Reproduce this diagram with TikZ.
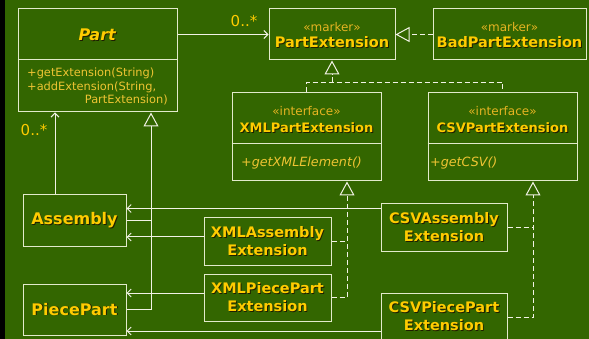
\documentclass[tikz,border=0pt]{standalone}
\usepackage{fontspec}
\setmainfont{DejaVu Sans}
\usetikzlibrary{arrows.meta}
\definecolor{bg}{HTML}{336600}
\definecolor{txt}{HTML}{FFCC00}
\definecolor{stereo}{HTML}{E6B422}
\definecolor{meth}{HTML}{EEC433}
\definecolor{shd}{HTML}{1E1E00}
\definecolor{ln}{HTML}{F2F2E6}
\definecolor{bx}{HTML}{E2EACB}
\newcommand\shtxt[1]{\leavevmode\rlap{\kern0.9pt\raisebox{-0.9pt}{\textcolor{shd}{#1}}}#1}
\begin{document}
\begin{tikzpicture}[x=1pt,y=-1pt,
  box/.style={draw=bx,line width=1pt,inner sep=0pt,rectangle},
  namef/.style={text=txt,font=\bfseries\fontsize{14.5}{18}\selectfont,align=center,inner sep=0pt},
  ifnamef/.style={text=txt,font=\bfseries\fontsize{13}{16}\selectfont,inner sep=0pt},
  bigf/.style={text=txt,font=\bfseries\fontsize{16}{19}\selectfont,inner sep=0pt},
  stereof/.style={text=stereo,font=\fontsize{12}{14}\selectfont,inner sep=0pt},
  methf/.style={text=meth,font=\fontsize{11.4}{13}\selectfont,inner sep=0pt},
  imethf/.style={text=meth,font=\itshape\fontsize{12.7}{15}\selectfont,inner sep=0pt},
  mult/.style={text=txt,font=\fontsize{15}{17}\selectfont,inner sep=0pt},
  conn/.style={draw=ln,line width=1pt},
  nav/.style={conn,-{Straight Barb[length=4pt,width=8pt]}},
  gen/.style={conn,-{Triangle[open,length=14pt,width=15pt,fill=bg]}},
  real/.style={gen,dash pattern=on 5pt off 3pt},
  dsh/.style={conn,dash pattern=on 5pt off 3pt}
]
\useasboundingbox (0,0) rectangle (589,339);
\fill[bg] (0,0) rectangle (589,339);
\fill[black] (0,0) rectangle (5,339);

% boxes
\node[box,minimum width=159pt,minimum height=103pt] (part) at (97.5,60.5) {};
\draw[draw=bx,line width=1pt] (part.west |- 0,60) -- (part.east |- 0,60);
\node[box,minimum width=126pt,minimum height=51pt] (pe) at (332,34.5) {};
\node[box,minimum width=153pt,minimum height=51pt] (bpe) at (509.5,34.5) {};
\node[box,minimum width=149pt,minimum height=88pt] (xmlpe) at (306.5,137) {};
\draw[draw=bx,line width=1pt] (xmlpe.west |- 0,144) -- (xmlpe.east |- 0,144);
\node[box,minimum width=149pt,minimum height=88pt] (csvpe) at (502.5,137) {};
\draw[draw=bx,line width=1pt] (csvpe.west |- 0,144) -- (csvpe.east |- 0,144);
\node[box,bigf,minimum width=103pt,minimum height=52pt] (asm) at (74.5,221) {\shtxt{Assembly}};
\node[box,bigf,minimum width=103pt,minimum height=51pt] (pp) at (74.5,309.5) {\shtxt{PiecePart}};
\node[box,namef,minimum width=127pt,minimum height=47pt] (xmla) at (267.5,241.5) {\shtxt{XMLAssembly}\\\shtxt{Extension}};
\node[box,namef,minimum width=127pt,minimum height=47pt] (xmlpp) at (267.5,297.5) {\shtxt{XMLPiecePart}\\\shtxt{Extension}};
\node[box,namef,minimum width=126pt,minimum height=47pt] (csva) at (444,227.5) {\shtxt{CSVAssembly}\\\shtxt{Extension}};
\node[box,namef,minimum width=126pt,minimum height=48pt] (csvpp) at (444,317) {\shtxt{CSVPiecePart}\\\shtxt{Extension}};

% texts
\node[bigf] (partname) at (97.5,35) {\shtxt{\textit{Part}}};
\node[methf,anchor=west] (pm1) at (27,73) {+getExtension(String)};
\node[methf,anchor=west] (pm2) at (27,87) {+addExtension(String,};
\node[methf,anchor=east] (pm3) at (168,100) {PartExtension)};
\node[stereof] (pes) at (332,27) {«marker»};
\node[namef] (pen) at (332,43) {\shtxt{PartExtension}};
\node[stereof] (bpes) at (509.5,27) {«marker»};
\node[namef] (bpen) at (509.5,43) {\shtxt{BadPartExtension}};
\node[stereof] (xs) at (306.5,111) {«interface»};
\node[ifnamef] (xn) at (306.5,128) {\shtxt{XMLPartExtension}};
\node[imethf,anchor=west] (xm) at (241,163) {+getXMLElement()};
\node[stereof] (cs) at (502.5,111) {«interface»};
\node[ifnamef] (cn) at (502.5,128) {\shtxt{CSVPartExtension}};
\node[imethf,anchor=west] (cm) at (430,163) {+getCSV()};
\node[mult] (m1) at (244,21) {0..*};
\node[mult] (m2) at (34,130) {0..*};

% connectors
\draw[nav] (pe.west -| part.east) -- (pe.west);
\draw[real] (bpe.west) -- (pe.east);
\draw[dsh] (xmlpe.north) -- ++(0,-10) coordinate (tl) -| (csvpe.north);
\draw[real] (tl -| pe.south) -- (pe.south);

\coordinate (an) at ([xshift=-19.5pt]asm.north);
\draw[nav] (an) -- (an |- part.south);
\coordinate (gt) at ([xshift=53.5pt]part.south);
\draw[gen] (pp.east) -| (gt);
\draw[conn] (asm.east) -- (asm.east -| gt);

\draw[nav] ([yshift=-5pt]csva.north west) -- ([yshift=-5pt]csva.north west -| asm.east);
\draw[nav] ([yshift=4.5pt]xmla.west) -- ([yshift=4.5pt]xmla.west -| asm.east);
\draw[nav] ([yshift=4.5pt]xmlpp.west) -- ([yshift=4.5pt]xmlpp.west -| pp.east);
\draw[nav] ([yshift=-14pt]csvpp.west) -- ([yshift=-14pt]csvpp.west -| pp.east);

\coordinate (xt) at ([xshift=40.5pt]xmlpe.south);
\draw[dsh] (xmla.east) -- (xmla.east -| xt);
\draw[real] (xmlpp.east) -| (xt);
\coordinate (ct) at ([xshift=30.5pt]csvpe.south);
\draw[dsh] (csva.east) -- (csva.east -| ct);
\draw[real] (csvpp.east) -| (ct);
\end{tikzpicture}
\end{document}
